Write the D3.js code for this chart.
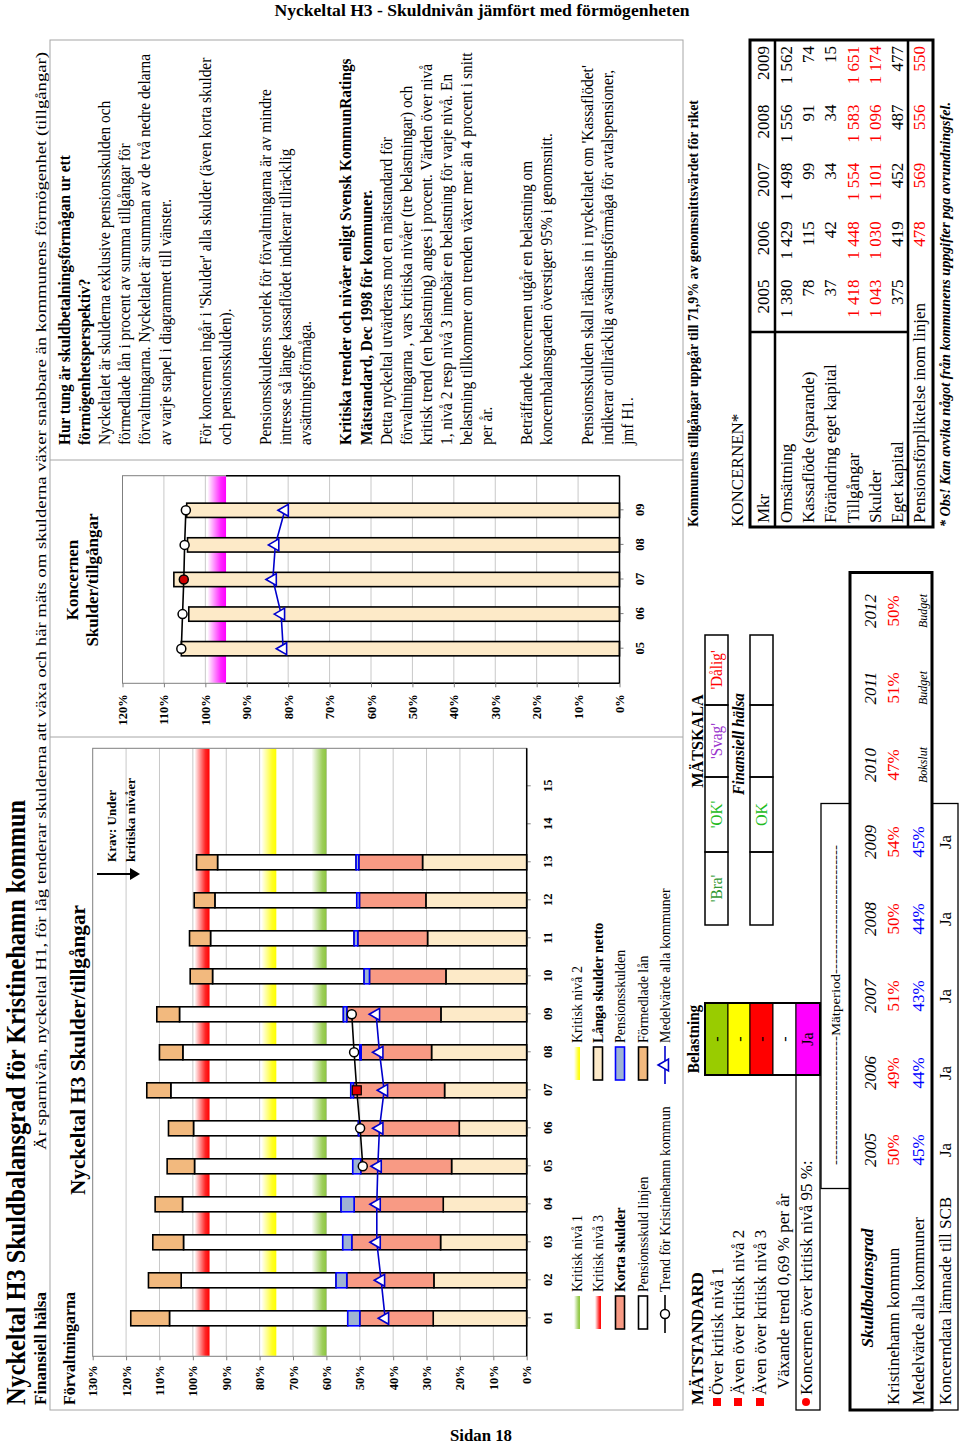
<!DOCTYPE html>
<html><head><meta charset="utf-8">
<script src="https://cdn.jsdelivr.net/npm/d3@7"></script>
<style>body{margin:0;background:#fff}svg{display:block}</style>
</head><body><svg id="c" width="960" height="1446"></svg>
<script>
// ---------------- DATA ----------------
const categories = ['01','02','03','04','05','06','07','08','09','10','11','12','13','14','15'];
const langaSkulder       = [28.0,27.8,25.8,25.0,22.5,20.2,24.6,28.5,25.7,24.2,29.7,30.2,31.2];
const kortaSkulder       = [22.0,26.1,26.6,26.7,27.2,29.7,27.3,21.1,28.2,22.9,20.9,19.9,19.1];
const pensionsskulden    = [3.6,3.2,2.7,3.9,2.4,0.5,0.8,0.4,1.0,1.6,1.1,0.8,0.8];
const pensionsskuldLinjen= [53.4,46.4,47.7,47.5,47.4,49.4,53.9,53.0,49.1,45.4,43.0,42.5,41.5];
const formedladeLan      = [11.6,9.8,9.2,8.2,8.2,7.5,7.2,7.0,6.8,6.7,6.3,6.2,6.3];
const trendCats   = ['05','06','07','08','09'];
const trendKommun = [49.1,49.9,50.9,51.7,52.4];
const medelCats   = ['01','02','03','04','05','06','07','08','09'];
const medelKommuner = [42.4,43.6,44.9,44.9,44.6,44.1,42.7,44.1,45.1];
const valueTicks  = [0,10,20,30,40,50,60,70,80,90,100,110,120,130];
const criticalLevels = [60,75,95];

const koncernCats    = ['05','06','07','08','09'];
const koncernSkulder = [105.8,104.0,107.6,104.3,104.5];
const koncernTrend   = [105.8,105.5,105.2,105.0,104.7];
const koncernMedel   = [81.2,81.7,83.7,83.1,80.8];
const koncernTicks   = [0,10,20,30,40,50,60,70,80,90,100,110,120];
const koncernCritical = 95;

const tableYears = ['2005','2006','2007','2008','2009'];
const tableRows  = ['Omsättning','Kassaflöde (sparande)','Förändring eget kapital','Tillgångar','Skulder','Eget kapital','Pensionsförpliktelse inom linjen'];
const omsattning = ['1 380','1 429','1 498','1 556','1 562'];
const kassaflode = ['78','115','99','91','74'];
const forandringEK = ['37','42','34','34','15'];
const tillgangar = ['1 418','1 448','1 554','1 583','1 651'];
const skulder    = ['1 043','1 030','1 101','1 096','1 174'];
const egetKapital= ['375','419','452','487','477'];
const pensionForpl = ['','478','569','556','550'];

const skuldYears = ['2005','2006','2007','2008','2009','2010','2011','2012'];
const kommunPct  = ['50%','49%','51%','50%','54%','47%','51%','50%'];
const medelPct   = ['45%','44%','43%','44%','45%'];
const periodNotes= ['Bokslut','Budget','Budget'];
const koncerndata= ['Ja','Ja','Ja','Ja','Ja'];

const matRows = ['Över kritisk nivå 1','Även över kritisk nivå 2','Även över kritisk nivå 3','Växande trend 0,69 % per år','Koncernen över kritisk nivå 95 %:'];
const belastning = ['-','-','-','-','Ja'];
const skala = ["'Bra'","'OK'","'Svag'","'Dålig'"];
const skalaResult = ['','OK','',''];

const paragraph = [
 ['Hur tung är skuldbetalningsförmågan ur ett',1],
 ['förmögenhetsperspektiv?',1],
 ['Nyckeltalet är skulderna exklusive pensionsskulden och',0],
 ['förmedlade lån i procent av summa tillgångar för',0],
 ['förvaltningarna. Nyckeltalet är summan av de två nedre delarna',0],
 ['av varje stapel i diagrammet till vänster.',0],
 ['',0],
 ["För koncernen ingår i 'Skulder' alla skulder (även korta skulder",0],
 ['och pensionsskulden).',0],
 ['',0],
 ['Pensionsskuldens storlek för förvaltningarna är av mindre',0],
 ['intresse så länge kassaflödet indikerar tillräcklig',0],
 ['avsättningsförmåga.',0],
 ['',0],
 ['Kritiska trender och nivåer enligt Svensk KommunRatings',1],
 ['Mätstandard, Dec 1998 för kommuner.',1],
 ['Detta nyckeltal utvärderas mot en mätstandard för',0],
 ['förvaltningarna , vars kritiska nivåer (tre belastningar) och',0],
 ['kritisk trend (en belastning) anges i procent. Värden över nivå',0],
 ['1, nivå 2 resp nivå 3 innebär en belastning för varje nivå. En',0],
 ['belastning tillkommer om trenden växer mer än 4 procent i snitt',0],
 ['per år.',0],
 ['',0],
 ['Beträffande koncernen utgår en belastning om',0],
 ['koncernbalansgraden överstiger 95% i genomsnitt.',0],
 ['',0],
 ["Pensionsskulden skall räknas in i nyckeltalet om 'Kassaflödet'",0],
 ['indikerar otillräcklig avsättningsförmåga för avtalspensioner,',0],
 ['jmf H1.',0]
];

// ---------------- HELPERS ----------------
const SERIF = '"Liberation Serif","Times New Roman",serif';
function T(par, x, y, s, o = {}) {
  const t = par.append('text').attr('x', x).attr('y', y).text(s)
    .attr('font-family', SERIF).attr('font-size', o.fs || 16)
    .attr('font-weight', o.fw || 'normal').attr('font-style', o.it ? 'italic' : 'normal')
    .attr('text-anchor', o.a || 'start').attr('fill', o.c || '#000');
  if (o.w) t.attr('textLength', o.w).attr('lengthAdjust', 'spacingAndGlyphs');
  else if (o.k) { const L = t.node().getComputedTextLength(); if (L > 0) t.attr('textLength', L * o.k).attr('lengthAdjust', 'spacingAndGlyphs'); }
  return t;
}

const svg = d3.select('#c');
svg.append('rect').attr('width', 960).attr('height', 1446).attr('fill', '#fff');
const defs = svg.append('defs');
function grad(id, color) {
  const gr = defs.append('linearGradient').attr('id', id).attr('x1', 0).attr('y1', 1).attr('x2', 0).attr('y2', 0);
  gr.append('stop').attr('offset', 0).attr('stop-color', color).attr('stop-opacity', 1);
  gr.append('stop').attr('offset', 0.28).attr('stop-color', color).attr('stop-opacity', 0.85);
  gr.append('stop').attr('offset', 1).attr('stop-color', color).attr('stop-opacity', 0);
}
const critColors = ['#8DC63F', '#FFFF00', '#FF0000'];
grad('g0', critColors[0]); grad('g1', critColors[1]); grad('g2', critColors[2]); grad('gm', '#FF00FF');

// Horizontal (unrotated) texts
T(svg, 482, 16, 'Nyckeltal H3 - Skuldnivån jämfört med förmögenheten', {fs: 17, fw: 'bold', a: 'middle', w: 415});
T(svg, 481, 1441, 'Sidan 18', {fs: 17, fw: 'bold', a: 'middle', w: 62});

// Rotated page (landscape coords: lx = 1446 - screenY, ly = screenX)
const g = svg.append('g').attr('transform', 'translate(0,1446) rotate(-90)');

T(g, 41, 25, 'Nyckeltal H3 Skuldbalansgrad för Kristinehamn kommun', {fs: 27, fw: 'bold', w: 605});
T(g, 41, 46, 'Finansiell hälsa', {fs: 17, fw: 'bold', w: 113});
T(g, 296, 46, 'Är sparnivån, nyckeltal H1, för låg tenderar skulderna att växa och här mäts om skulderna växer snabbare än kommunens förmögenhet (tillgångar)', {fs: 15.5, w: 1098});

// frames
const frameC = '#A6A6A6';
g.append('rect').attr('x', 36).attr('y', 50).attr('width', 1370).attr('height', 633).attr('fill', 'none').attr('stroke', frameC);
g.append('line').attr('x1', 709).attr('x2', 709).attr('y1', 50).attr('y2', 683).attr('stroke', frameC);
g.append('line').attr('x1', 986).attr('x2', 986).attr('y1', 50).attr('y2', 683).attr('stroke', frameC);

T(g, 41, 75, 'Förvaltningarna', {fs: 17, fw: 'bold', w: 113});
T(g, 396, 85, 'Nyckeltal H3 Skulder/tillgångar', {fs: 21, fw: 'bold', a: 'middle', w: 290});

// ---------------- LEFT CHART ----------------
const xL = d3.scalePoint().domain(categories).range([89.7, 697.7]).padding(1);
const yL = d3.scaleLinear().domain([0, 130]).range([526.7, 92.7]);
const cL = g.append('g');
cL.selectAll('line.grid').data(valueTicks.filter(v => v > 0 && v < 130)).join('line')
  .attr('x1', 89.7).attr('x2', 697.7).attr('y1', d => yL(d)).attr('y2', d => yL(d)).attr('stroke', '#C8C8C8');
cL.selectAll('rect.band').data(criticalLevels).join('rect')
  .attr('x', 90.2).attr('width', 607).attr('y', d => yL(d + 4.5)).attr('height', d => yL(d) - yL(d + 4.5))
  .attr('fill', (d, i) => `url(#g${i})`);

const rows = langaSkulder.map((d, i) => ({cat: categories[i], langa: d, korta: kortaSkulder[i], pension: pensionsskulden[i], linjen: pensionsskuldLinjen[i], formed: formedladeLan[i]}));
const keys = ['langa', 'korta', 'pension', 'linjen', 'formed'];
const fills = {langa: '#FDEAC8', korta: '#F89A84', pension: '#9EB3D3', linjen: '#FFFFFF', formed: '#F2B97E'};
const strokes = {langa: '#000', korta: '#000', pension: '#0000FF', linjen: '#000', formed: '#000'};
const stackL = d3.stack().keys(keys)(rows);
const bwL = 15;
const drawOrder = ['langa', 'korta', 'linjen', 'formed', 'pension'];
drawOrder.forEach(k => {
  const s = stackL.find(q => q.key === k);
  cL.append('g').selectAll('rect').data(s).join('rect')
    .attr('x', d => xL(d.data.cat) - bwL / 2).attr('width', bwL)
    .attr('y', d => yL(d[1])).attr('height', d => yL(d[0]) - yL(d[1]))
    .attr('fill', fills[k]).attr('stroke', strokes[k]).attr('stroke-width', 1.6);
});
cL.append('rect').attr('x', 89.7).attr('y', 92.7).attr('width', 608).attr('height', 434).attr('fill', 'none').attr('stroke', '#7F7F7F');
const axL = cL.append('g').attr('transform', 'translate(89.7,0)')
  .call(d3.axisLeft(yL).tickValues(valueTicks).tickSize(4).tickPadding(5).tickFormat(d => d + '%'));
const axB = cL.append('g').attr('transform', 'translate(0,526.7)')
  .call(d3.axisBottom(xL).tickSize(4).tickPadding(12));
[axL, axB].forEach(a => {
  a.select('.domain').remove();
  a.selectAll('line').attr('stroke', '#7F7F7F');
  a.selectAll('text').attr('font-family', SERIF).attr('font-weight', 'bold').attr('font-size', 12.5).attr('fill', '#000');
});
cL.append('line').attr('x1', 89.7).attr('x2', 697.7).attr('y1', 526.7).attr('y2', 526.7).attr('stroke', '#000').attr('stroke-width', 1.5);

const lineL = d3.line().x(d => xL(d[0])).y(d => yL(d[1]));
const medelData = medelCats.map((c, i) => [c, medelKommuner[i]]);
cL.append('path').attr('d', lineL(medelData)).attr('fill', 'none').attr('stroke', '#0000CC').attr('stroke-width', 1.6);
cL.selectAll('path.tri').data(medelData).join('path')
  .attr('transform', d => `translate(${xL(d[0])},${yL(d[1])})`)
  .attr('d', d3.symbol(d3.symbolTriangle).size(62)).attr('fill', '#fff').attr('stroke', '#0000CC').attr('stroke-width', 1.6);
const trendData = trendCats.map((c, i) => [c, trendKommun[i]]);
cL.append('path').attr('d', lineL(trendData)).attr('fill', 'none').attr('stroke', '#000').attr('stroke-width', 1.6);
trendData.forEach(d => {
  if (d[0] === '07') cL.append('rect').attr('x', xL(d[0]) - 4.5).attr('y', yL(d[1]) - 4.5).attr('width', 9).attr('height', 9).attr('fill', '#E00000').attr('stroke', '#000').attr('stroke-width', 1.2);
  else cL.append('circle').attr('cx', xL(d[0])).attr('cy', yL(d[1])).attr('r', 4.5).attr('fill', '#fff').attr('stroke', '#000').attr('stroke-width', 1.5);
});
g.append('line').attr('x1', 572).attr('x2', 572).attr('y1', 97).attr('y2', 132).attr('stroke', '#000').attr('stroke-width', 1.8);
g.append('path').attr('d', 'M566,130 L578,130 L572,140 Z').attr('fill', '#000');
T(g, 584, 116, 'Krav: Under', {fs: 13.5, fw: 'bold', w: 72});
T(g, 584, 135, 'kritiska nivåer', {fs: 13.5, fw: 'bold', w: 84});

// legend
const legY = [577, 598, 620, 643, 665];
const colX = [117, 366];
const lg = g.append('g');
function legBox(x, y, fill, stroke) { lg.append('rect').attr('x', x).attr('y', y - 4.5).attr('width', 33).attr('height', 9).attr('fill', fill).attr('stroke', stroke).attr('stroke-width', 1.6); }
function legBand(x, y, id) { lg.append('rect').attr('x', x).attr('y', y - 3).attr('width', 33).attr('height', 6).attr('fill', `url(#${id})`); }
legBand(colX[0], legY[0], 'g0'); T(lg, colX[0] + 37, legY[0] + 5, 'Kritisk nivå 1', {fs: 14});
legBand(colX[1], legY[0], 'g1'); T(lg, colX[1] + 37, legY[0] + 5, 'Kritisk nivå 2', {fs: 14});
legBand(colX[0], legY[1], 'g2'); T(lg, colX[0] + 37, legY[1] + 5, 'Kritisk nivå 3', {fs: 14});
legBox(colX[1], legY[1], fills.langa, '#000'); T(lg, colX[1] + 37, legY[1] + 5, 'Långa skulder netto', {fs: 14, fw: 'bold'});
legBox(colX[0], legY[2], fills.korta, '#000'); T(lg, colX[0] + 37, legY[2] + 5, 'Korta skulder', {fs: 14, fw: 'bold'});
legBox(colX[1], legY[2], fills.pension, '#0000FF'); T(lg, colX[1] + 37, legY[2] + 5, 'Pensionsskulden', {fs: 14});
legBox(colX[0], legY[3], fills.linjen, '#000'); T(lg, colX[0] + 37, legY[3] + 5, 'Pensionsskuld linjen', {fs: 14});
legBox(colX[1], legY[3], fills.formed, '#000'); T(lg, colX[1] + 37, legY[3] + 5, 'Förmedlade lån', {fs: 14});
lg.append('line').attr('x1', colX[0] - 4).attr('x2', colX[0] + 34).attr('y1', legY[4]).attr('y2', legY[4]).attr('stroke', '#000').attr('stroke-width', 1.6);
lg.append('circle').attr('cx', colX[0] + 15).attr('cy', legY[4]).attr('r', 4.5).attr('fill', '#fff').attr('stroke', '#000').attr('stroke-width', 1.5);
T(lg, colX[0] + 37, legY[4] + 5, 'Trend för Kristinehamn kommun', {fs: 14});
lg.append('line').attr('x1', colX[1] - 4).attr('x2', colX[1] + 34).attr('y1', legY[4]).attr('y2', legY[4]).attr('stroke', '#0000CC').attr('stroke-width', 1.6);
lg.append('path').attr('transform', `translate(${colX[1] + 15},${legY[4]})`).attr('d', d3.symbol(d3.symbolTriangle).size(62)).attr('fill', '#fff').attr('stroke', '#0000CC').attr('stroke-width', 1.6);
T(lg, colX[1] + 37, legY[4] + 5, 'Medelvärde alla kommuner', {fs: 14});

// ---------------- KONCERN CHART ----------------
T(g, 866, 78, 'Koncernen', {fs: 17, fw: 'bold', a: 'middle'});
T(g, 866, 98, 'Skulder/tillgångar', {fs: 17, fw: 'bold', a: 'middle'});
const xK = d3.scalePoint().domain(koncernCats).range([762.7, 970.3]).padding(1);
const yK = d3.scaleLinear().domain([0, 120]).range([619.5, 122.5]);
const cK = g.append('g');
cK.selectAll('line.grid').data(koncernTicks.filter(v => v > 0 && v < 120)).join('line')
  .attr('x1', 762.7).attr('x2', 970.3).attr('y1', d => yK(d)).attr('y2', d => yK(d)).attr('stroke', '#C8C8C8');
cK.append('rect').attr('x', 763.2).attr('width', 206.6).attr('y', yK(koncernCritical + 4.5)).attr('height', yK(koncernCritical) - yK(koncernCritical + 4.5)).attr('fill', 'url(#gm)');
const bwK = 14.3;
cK.selectAll('rect.bar').data(koncernSkulder).join('rect')
  .attr('x', (d, i) => xK(koncernCats[i]) - bwK / 2).attr('width', bwK)
  .attr('y', d => yK(d)).attr('height', d => yK(0) - yK(d))
  .attr('fill', fills.langa).attr('stroke', '#000').attr('stroke-width', 1.6);
cK.append('rect').attr('x', 762.7).attr('y', 122.5).attr('width', 207.6).attr('height', 497).attr('fill', 'none').attr('stroke', '#7F7F7F');
[762.7, 970.3].forEach(x => cK.append('line').attr('x1', x).attr('x2', x).attr('y1', yK(0)).attr('y2', yK(koncernCritical)).attr('stroke', '#000').attr('stroke-width', 1.5));
const axKL = cK.append('g').attr('transform', 'translate(762.7,0)')
  .call(d3.axisLeft(yK).tickValues(koncernTicks).tickSize(4).tickPadding(7).tickFormat(d => d + '%'));
const axKB = cK.append('g').attr('transform', 'translate(0,619.5)')
  .call(d3.axisBottom(xK).tickSize(4).tickPadding(12));
[axKL, axKB].forEach(a => {
  a.select('.domain').remove();
  a.selectAll('line').attr('stroke', '#7F7F7F');
  a.selectAll('text').attr('font-family', SERIF).attr('font-weight', 'bold').attr('font-size', 12.5).attr('fill', '#000');
});
cK.append('line').attr('x1', 762.7).attr('x2', 970.3).attr('y1', 619.5).attr('y2', 619.5).attr('stroke', '#000').attr('stroke-width', 1.5);
const lineK = d3.line().x(d => xK(d[0])).y(d => yK(d[1]));
const kMedel = koncernCats.map((c, i) => [c, koncernMedel[i]]);
cK.append('path').attr('d', lineK(kMedel)).attr('fill', 'none').attr('stroke', '#0000CC').attr('stroke-width', 1.6);
cK.selectAll('path.tri').data(kMedel).join('path')
  .attr('transform', d => `translate(${xK(d[0])},${yK(d[1])})`)
  .attr('d', d3.symbol(d3.symbolTriangle).size(62)).attr('fill', '#fff').attr('stroke', '#0000CC').attr('stroke-width', 1.6);
const kTrend = koncernCats.map((c, i) => [c, koncernTrend[i]]);
cK.append('path').attr('d', lineK(kTrend)).attr('fill', 'none').attr('stroke', '#000').attr('stroke-width', 1.6);
cK.selectAll('circle.tr').data(kTrend).join('circle')
  .attr('cx', d => xK(d[0])).attr('cy', d => yK(d[1])).attr('r', 4.5)
  .attr('fill', d => d[0] === '07' ? '#D00000' : '#fff').attr('stroke', '#000').attr('stroke-width', 1.5);

// ---------------- TEXT PANEL ----------------
paragraph.forEach((p, i) => {
  if (!p[0]) return;
  T(g, 1001, 70 + i * 20.1, p[0], {fs: 16, fw: p[1] ? 'bold' : 'normal', k: 0.96});
});

// ---------------- MÄTSTANDARD ----------------
T(g, 41, 703, 'MÄTSTANDARD', {fs: 17, fw: 'bold'});
const mY = [717, 738, 760, 783, 806];
matRows.forEach((r, i) => {
  if (i < 3) g.append('rect').attr('x', 40).attr('y', mY[i] - 4).attr('width', 8).attr('height', 8).attr('fill', '#FF0000');
  if (i === 4) g.append('circle').attr('cx', 44).attr('cy', mY[i]).attr('r', 4).attr('fill', '#FF0000');
  T(g, i === 3 ? 57 : 51, mY[i] + 6, r, {fs: 17});
});
g.append('rect').attr('x', 36).attr('y', 796).attr('width', 335).attr('height', 24).attr('fill', 'none').attr('stroke', '#000').attr('stroke-width', 1.3);
T(g, 407, 699, 'Belastning', {fs: 16, fw: 'bold', a: 'middle', k: 0.95});
const bY = [705, 728, 750, 773, 796, 820];
const bCol = ['#99CC00', '#FFFF00', '#FF0000', '#FFFFFF', '#FF00FF'];
belastning.forEach((b, i) => {
  g.append('rect').attr('x', 371).attr('y', bY[i]).attr('width', 72).attr('height', bY[i + 1] - bY[i]).attr('fill', bCol[i]).attr('stroke', '#000').attr('stroke-width', 1);
  T(g, 407, bY[i] + 17, b, {fs: 16, a: 'middle'});
});
g.append('rect').attr('x', 371).attr('y', 705).attr('width', 72).attr('height', 115).attr('fill', 'none').attr('stroke', '#000').attr('stroke-width', 2);

// MÄTSKALA
T(g, 705, 703, 'MÄTSKALA', {fs: 17, fw: 'bold', a: 'middle', k: 0.95});
const sX = [521, 594, 669, 741, 811];
const sCol = ['#339933', '#22BB22', '#9933CC', '#FF0000'];
skala.forEach((s, i) => {
  g.append('rect').attr('x', sX[i]).attr('y', 705).attr('width', sX[i + 1] - sX[i]).attr('height', 23).attr('fill', 'none').attr('stroke', '#000').attr('stroke-width', 1.5);
  T(g, (sX[i] + sX[i + 1]) / 2, 722, s, {fs: 16, a: 'middle', c: sCol[i], k: 0.95});
  g.append('rect').attr('x', sX[i]).attr('y', 750).attr('width', sX[i + 1] - sX[i]).attr('height', 23).attr('fill', 'none').attr('stroke', '#000').attr('stroke-width', 1.5);
  if (skalaResult[i]) T(g, (sX[i] + sX[i + 1]) / 2, 767, skalaResult[i], {fs: 16, a: 'middle', c: sCol[1]});
});
T(g, 702, 744, 'Finansiell hälsa', {fs: 16, fw: 'bold', it: true, a: 'middle', k: 0.95});

// Skuldbalansgrad table
const col0 = 257.5, colW = 77;
const colC = i => col0 + colW * i + colW / 2;
g.append('rect').attr('x', col0).attr('y', 821).attr('width', colW * 5).attr('height', 29).attr('fill', 'none').attr('stroke', '#000').attr('stroke-width', 1.3);
T(g, 441, 840, '--------------------------Mätperiod--------------------------', {fs: 13, a: 'middle', w: 320});
g.append('rect').attr('x', 36).attr('y', 850).attr('width', col0 - 36 + colW * 8).attr('height', 82).attr('fill', 'none').attr('stroke', '#000').attr('stroke-width', 3);
T(g, 158, 873, 'Skuldbalansgrad', {fs: 17, fw: 'bold', it: true, a: 'middle'});
T(g, 41, 899, 'Kristinehamn kommun', {fs: 17});
T(g, 41, 924, 'Medelvärde alla kommuner', {fs: 17});
skuldYears.forEach((y, i) => {
  T(g, colC(i), 876, y, {fs: 17, it: true, a: 'middle'});
  T(g, colC(i), 899, kommunPct[i], {fs: 17, a: 'middle', c: '#FF0000'});
});
medelPct.forEach((v, i) => T(g, colC(i), 924, v, {fs: 17, a: 'middle', c: '#0000FF'}));
periodNotes.forEach((v, i) => T(g, colC(5 + i), 927, v, {fs: 12, it: true, a: 'middle'}));
g.append('rect').attr('x', 36).attr('y', 932).attr('width', col0 - 36 + colW * 5).attr('height', 26).attr('fill', 'none').attr('stroke', '#000').attr('stroke-width', 1.3);
T(g, 41, 951, 'Koncerndata lämnade till SCB', {fs: 17});
koncerndata.forEach((v, i) => T(g, colC(i), 951, v, {fs: 17, a: 'middle'}));

// Koncern table
T(g, 919, 698, 'Kommunens tillgångar uppgår till 71,9% av genomsnittsvärdet för riket', {fs: 14, fw: 'bold', w: 427});
T(g, 919, 743, 'KONCERNEN*', {fs: 17});
const tL = 919, tSep = 1114, tR = 1406, tCW = (tR - tSep) / 5;
const rB = [750, 775, 797, 819, 842, 864, 886, 908, 933];
g.append('rect').attr('x', tL).attr('y', 750).attr('width', tR - tL).attr('height', 183).attr('fill', 'none').attr('stroke', '#000').attr('stroke-width', 3);
g.append('line').attr('x1', tL).attr('x2', tR).attr('y1', 775).attr('y2', 775).attr('stroke', '#000').attr('stroke-width', 2.5);
g.append('line').attr('x1', tL).attr('x2', tR).attr('y1', 908).attr('y2', 908).attr('stroke', '#000').attr('stroke-width', 2.5);
g.append('line').attr('x1', tSep).attr('x2', tSep).attr('y1', 750).attr('y2', 908).attr('stroke', '#000').attr('stroke-width', 2.5);
T(g, tL + 4, 769, 'Mkr', {fs: 17});
tableYears.forEach((y, i) => T(g, tSep + tCW * (i + 1) - 6, 769, y, {fs: 17, a: 'end'}));
const tData = [omsattning, kassaflode, forandringEK, tillgangar, skulder, egetKapital, pensionForpl];
const tRed = [false, false, false, true, true, false, true];
tableRows.forEach((r, j) => {
  T(g, tL + 4, rB[j + 1] + 17, r, {fs: 17});
  tData[j].forEach((v, i) => { if (v) T(g, tSep + tCW * (i + 1) - 6, rB[j + 1] + 17, v, {fs: 17, a: 'end', c: tRed[j] ? '#FF0000' : '#000'}); });
});
T(g, 919, 950, '* Obs! Kan avvika något från kommunens uppgifter pga avrundningsfel.', {fs: 14, fw: 'bold', it: true, w: 425});
</script></body></html>
